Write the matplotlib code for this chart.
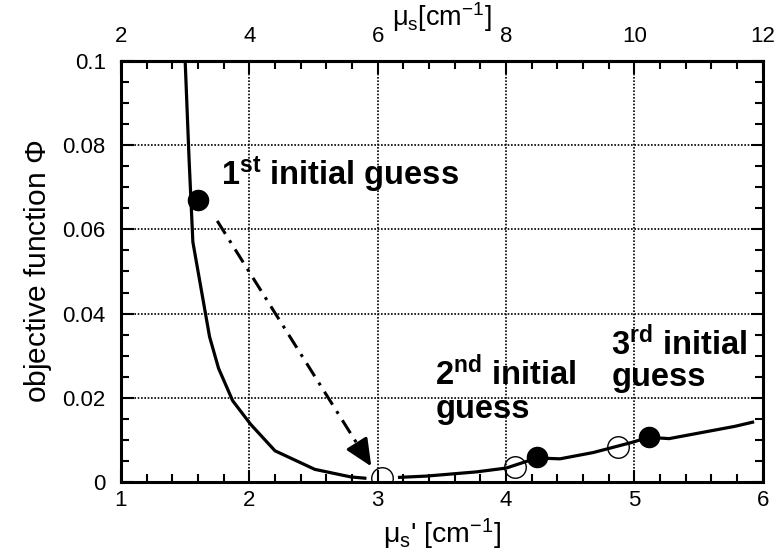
import numpy as np
import matplotlib
matplotlib.use("Agg")
import matplotlib.pyplot as plt
from matplotlib.ticker import MultipleLocator, FixedLocator

plt.rcParams['font.family'] = ['Liberation Sans', 'DejaVu Sans']
plt.rcParams['mathtext.fontset'] = 'custom'
plt.rcParams['mathtext.rm'] = 'Liberation Sans'
plt.rcParams['mathtext.it'] = 'Liberation Sans'
plt.rcParams['mathtext.bf'] = 'Liberation Sans:bold'
plt.rcParams['mathtext.sf'] = 'Liberation Sans'

# objective function curve (two pieces, gap near the minimum)
curve1_x = [1.50, 1.53, 1.56, 1.69, 1.76, 1.87, 2.01, 2.20, 2.51, 2.79, 2.90]
curve1_y = [0.100, 0.077, 0.057, 0.0345, 0.027, 0.0193, 0.0137, 0.0074, 0.0030, 0.0012, 0.0009]
curve2_x = [3.17, 3.38, 3.77, 4.00, 4.24, 4.42, 4.68, 4.98, 5.11, 5.27, 5.78, 5.92]
curve2_y = [0.0011, 0.0014, 0.0024, 0.0033, 0.0057, 0.0055, 0.0070, 0.0094, 0.0106, 0.0103, 0.0132, 0.0142]

# initial guesses (filled) and converged results (open)
guess_x = [1.60, 4.24, 5.11]
guess_y = [0.067, 0.0059, 0.0108]
result_x = [3.03, 4.07, 4.87]
result_y = [0.0009, 0.0035, 0.0082]

# arrow from 1st guess to its result
arrow_start = (1.75, 0.062)
arrow_end = (2.95, 0.0037)

top_ticks = [2, 4, 6, 8, 10, 12]
top_minor = [2 + 0.4 * i for i in range(26)]

fig = plt.figure(figsize=(7.78, 5.54), dpi=100)
ax = fig.add_axes([0.1555, 0.1300, 0.825, 0.7600])

ax.plot(curve1_x, curve1_y, color='black', lw=2.3, solid_joinstyle='miter', zorder=3)
ax.plot(curve2_x, curve2_y, color='black', lw=2.3, solid_joinstyle='miter', zorder=3)
ax.plot(guess_x, guess_y, 'o', ms=14.5, mfc='black', mec='black', zorder=4)
ax.plot(result_x, result_y, 'o', ms=15.5, mfc='none', mec='black', mew=1.0, zorder=4)

# dash-dot shaft, then a solid head at the end
frac = 0.92
mid = (arrow_start[0] + frac * (arrow_end[0] - arrow_start[0]),
       arrow_start[1] + frac * (arrow_end[1] - arrow_start[1]))
ax.plot([arrow_start[0], mid[0]], [arrow_start[1], mid[1]], color='black',
        lw=2.2, linestyle=(0, (5, 2.5, 1, 2.5)), zorder=3)
ax.annotate('', xy=arrow_end, xytext=mid,
            arrowprops=dict(arrowstyle='-|>,head_length=1.1,head_width=0.5',
                            color='black', lw=2.2, shrinkA=0, shrinkB=0,
                            mutation_scale=15), zorder=3)

txt = dict(fontsize=23.5, fontweight='bold', color='black')
ax.text(1.78, 0.0705, r'$\mathbf{1^{st}}$ initial guess', **txt)
ax.text(3.45, 0.0230, r'$\mathbf{2^{nd}}$ initial', **txt)
ax.text(3.45, 0.0152, 'guess', **txt)
ax.text(4.82, 0.0302, r'$\mathbf{3^{rd}}$ initial', **txt)
ax.text(4.82, 0.0228, 'guess', **txt)

ax.set_xlim(1, 6)
ax.set_ylim(0, 0.1)
ax.xaxis.set_major_locator(MultipleLocator(1))
ax.xaxis.set_minor_locator(MultipleLocator(0.2))
ax.yaxis.set_minor_locator(MultipleLocator(0.005))
ax.set_yticks([0, 0.02, 0.04, 0.06, 0.08, 0.1])
ax.set_yticklabels(['0', '0.02', '0.04', '0.06', '0.08', '0.1'])
ax.grid(True, which='major', color='black', lw=1.2, linestyle=(0, (1, 1)))

ax.tick_params(which='both', direction='in', right=True, top=False,
               labelsize=16, width=1.5)
ax.tick_params(axis='x', pad=6)
ax.tick_params(axis='y', pad=11)
ax.tick_params(which='major', length=9)
ax.tick_params(which='minor', length=6)
for s in ax.spines.values():
    s.set_linewidth(2.2)

ax.set_xlabel(r"$\mu_s$' [cm$^{-1}$]", fontsize=20.5, labelpad=4)
ax.set_ylabel(r'objective function $\Phi$', fontsize=21.5, labelpad=6)

top = ax.secondary_xaxis('top', functions=(lambda x: x * 2, lambda x: x / 2))
top.xaxis.set_major_locator(FixedLocator(top_ticks))
top.xaxis.set_minor_locator(FixedLocator(top_minor))
top.set_xticklabels([str(t) for t in top_ticks])
top.tick_params(which='both', direction='in', labelsize=16, width=1.5, pad=10)
top.tick_params(which='major', length=9)
top.tick_params(which='minor', length=6)
top.spines['top'].set_linewidth(2.2)
top.set_xlabel(r'$\mu_s$[cm$^{-1}$]', fontsize=19.5, labelpad=0)

fig.savefig('out.png', dpi=100)
